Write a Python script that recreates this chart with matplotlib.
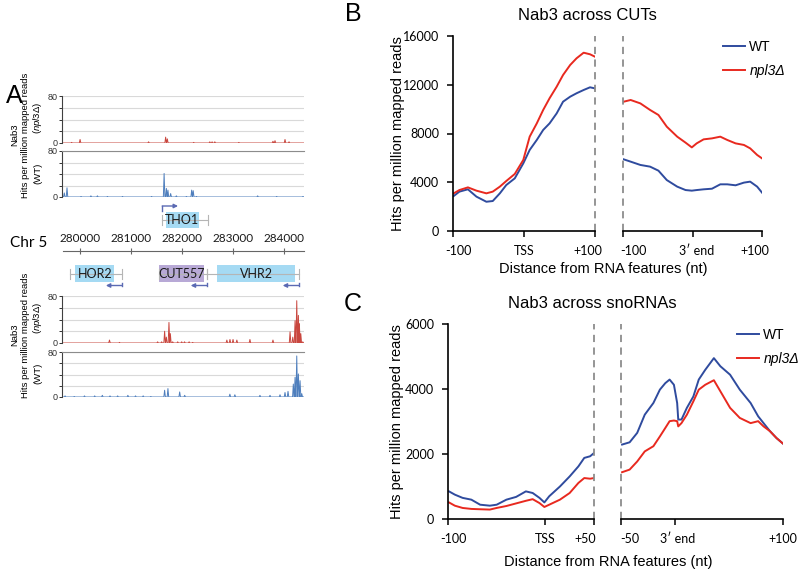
import numpy as np
import matplotlib.pyplot as plt
from matplotlib.transforms import ScaledTranslation

plt.rcParams['font.family'] = ['Liberation Sans', 'DejaVu Sans']
plt.rcParams['mathtext.fontset'] = 'custom'
plt.rcParams['mathtext.it'] = 'Liberation Sans:italic'
plt.rcParams['mathtext.rm'] = 'Liberation Sans'
CAL = ['Lato', 'DejaVu Sans']

# ---------------- Panel A: Chr 5 tracks ----------------
chr_ticks = [280000, 281000, 282000, 283000, 284000]
chr_lim = (279660, 284400)

# npl3 (top, around THO1)
a1_pos = [279849, 280014, 281356, 281690, 281723, 282240, 282555, 282600, 282653,
          283124, 283792, 283832, 284028, 284107]
a1_val = [1, 6, 2, 10, 7, 1, 2, 2, 2, 1, 3, 4, 6, 2]
# WT (top)
a2_pos = [279705, 279758, 280033, 280226, 280354, 280550, 280845, 281415, 281660,
          281704, 281735, 281788, 281900, 282097, 282200, 282230, 282293, 283492,
          283865, 284380]
a2_val = [7, 16, 1, 2, 2, 1, 1, 1, 41, 15, 12, 6, 2, 1, 12, 11, 1, 2, 1, 1]
# npl3 (bottom, around CUT557)
a3_pos = [280590, 280786, 281533, 281611, 281670, 281704, 281755, 281782, 281828,
          281926, 282004, 282060, 282150, 282220, 282889, 282950, 283010, 283085,
          283341, 283792, 284127, 284180, 284225, 284258, 284290, 284309, 284337,
          284376]
a3_val = [5, 1, 2, 2, 20, 10, 35, 16, 2, 2, 2, 2, 2, 1, 5, 6, 6, 5, 6, 5, 19, 10,
          38, 72, 47, 33, 16, 2]
# WT (bottom)
a4_pos = [279720, 279900, 280100, 280300, 280450, 280600, 280750, 280950, 281100,
          281250, 281400, 281670, 281735, 281965, 282063, 282948, 283046, 283537,
          283734, 283930, 284028, 284087, 284191, 284225, 284258, 284290, 284323,
          284356]
a4_val = [2, 1, 2, 2, 3, 2, 2, 3, 2, 2, 1, 12, 15, 9, 3, 5, 4, 3, 3, 4, 8, 10, 23,
          35, 73, 41, 29, 6]

gene_names = ['THO1', 'HOR2', 'CUT557', 'VHR2']
gene_start = [281690, 279921, 281558, 282698]
gene_end = [282344, 280688, 282437, 284225]
span_start = [281623, 279823, 281558, 282501]
span_end = [282518, 280839, 282501, 284303]
gene_strand = ['+', '-', '-', '-']
gene_row = ['top', 'bottom', 'bottom', 'bottom']
gene_colors = ['#a5daf3', '#a5daf3', '#b8a9d6', '#a5daf3']

# ---------------- Panel B: Nab3 across CUTs ----------------
b_left_x = [-99, -91, -79, -67, -53, -44, -34, -25, -13, -1, 8, 18, 27, 36, 46, 55,
            65, 74, 84, 93, 100]
b_left_wt = [2870, 3230, 3420, 2820, 2400, 2460, 3090, 3770, 4320, 5550, 6650, 7470,
             8290, 8830, 9650, 10610, 11020, 11300, 11570, 11790, 11700]
b_left_npl3 = [3090, 3360, 3580, 3310, 3090, 3230, 3640, 4100, 4680, 5830, 7740,
               8830, 9930, 10890, 11840, 12800, 13620, 14170, 14630, 14500, 14300]
b_right_x = [-99, -89, -75, -61, -49, -37, -22, -10, -1, 6, 16, 28, 40, 50, 62, 74,
             83, 93, 100]
b_right_wt = [5880, 5690, 5420, 5280, 4950, 4180, 3640, 3360, 3310, 3360, 3420, 3470,
              3830, 3830, 3750, 3970, 4050, 3640, 3150]
b_right_npl3 = [10610, 10750, 10470, 9930, 9520, 8560, 7740, 7250, 6860, 7190, 7520,
                7600, 7740, 7470, 7190, 7060, 6780, 6240, 5960]

# ---------------- Panel C: Nab3 across snoRNAs ----------------
c_left_x = [-99, -93, -85, -76, -67, -57, -50, -40, -30, -20, -13, -6, -1, 4, 15, 25,
            34, 40, 46, 50]
c_left_wt = [850, 750, 650, 595, 440, 410, 440, 595, 680, 850, 800, 650, 510, 700,
             1000, 1310, 1620, 1880, 1930, 2030]
c_left_npl3 = [510, 410, 340, 310, 300, 290, 340, 400, 480, 560, 610, 490, 370, 440,
               595, 800, 1110, 1260, 1240, 1260]
c_right_x = [-49, -42, -35, -28, -20, -14, -9, -5, -1, 2, 3, 6, 11, 17, 22, 28, 36,
             42, 51, 60, 70, 77, 82, 88, 94, 100]
c_right_wt = [2290, 2360, 2650, 3210, 3570, 3980, 4180, 4290, 4130, 3570, 3060, 3060,
              3420, 3770, 4290, 4590, 4950, 4700, 4440, 3980, 3570, 3160, 2950, 2700,
              2490, 2320]
c_right_npl3 = [1440, 1520, 1770, 2080, 2240, 2540, 2800, 3010, 3030, 3010, 2850, 2950,
                3210, 3620, 3980, 4130, 4270, 3930, 3420, 3110, 2950, 3010, 2850, 2700,
                2490, 2320]

W, H = 800, 572
BLUE, RED = '#2f4b9e', '#e8291f'
BLUE_A, RED_A = '#4f7fbd', '#c9473f'


def box(x0, y0, x1, y1):
    return [x0 / W, 1 - y1 / H, (x1 - x0) / W, (y1 - y0) / H]


def spikes(ax, pos, val, color, w=15):
    xs, ys = [chr_lim[0]], [0]
    for p, v in zip(pos, val):
        xs += [p - w, p, p + w]
        ys += [0, v, 0]
    xs.append(chr_lim[1])
    ys.append(0)
    ax.plot(xs, ys, color=color, lw=0.7)


fig = plt.figure(figsize=(8, 5.72), dpi=100)

# ---- A: coverage tracks ----
tracks = [(a1_pos, a1_val, RED_A, 96, 143, False),
          (a2_pos, a2_val, BLUE_A, 151, 197, True),
          (a3_pos, a3_val, RED_A, 296, 343, False),
          (a4_pos, a4_val, BLUE_A, 352, 397, True)]
for pos, val, col, t, b, topline in tracks:
    ax = fig.add_axes(box(62, t, 304, b))
    ax.set_xlim(chr_lim)
    ax.set_ylim(0, 80)
    ax.set_yticks([0, 20, 40, 60, 80])
    ax.set_yticklabels(['0', '', '', '', '80'])
    ax.set_xticks([])
    ax.grid(axis='y', color='#d9d9d9', lw=0.8)
    ax.set_axisbelow(True)
    ax.spines['right'].set_visible(False)
    ax.spines['bottom'].set_visible(False)
    ax.spines['top'].set_visible(topline)
    ax.spines['top'].set_color('#8c8c8c')
    ax.spines['left'].set_color('#404040')
    ax.spines['left'].set_linewidth(0.8)
    ax.tick_params(axis='y', length=2, width=0.7, labelsize=6.5, pad=1, colors='#333333')
    spikes(ax, pos, val, col)

for yc in (135, 335):
    fig.text(15 / W, 1 - yc / H, 'Nab3', rotation=90, ha='center', va='center',
             fontsize=6.8)
    fig.text(26 / W, 1 - yc / H, 'Hits per million mapped reads', rotation=90,
             ha='center', va='center', fontsize=6.8)
    fig.text(38 / W, 1 - (yc - 17) / H, '($\\mathit{npl3}$Δ)', rotation=90,
             ha='center', va='center', fontsize=6.8)
    fig.text(38 / W, 1 - (yc + 38) / H, '(WT)', rotation=90, ha='center',
             va='center', fontsize=6.8)

# ---- A: gene annotations ----
gax = fig.add_axes(box(62, 200, 304, 292))
gax.set_xlim(chr_lim)
gax.set_ylim(292, 200)
gax.axis('off')
row_y = {'top': 220, 'bottom': 273.5}
for i, name in enumerate(gene_names):
    yc = row_y[gene_row[i]]
    gax.plot([span_start[i], span_end[i]], [yc, yc], color='#b5b5b5', lw=0.8)
    for xe in (span_start[i], span_end[i]):
        gax.plot([xe, xe], [yc - 5, yc + 5], color='#b5b5b5', lw=0.8)
    gax.add_patch(plt.Rectangle((gene_start[i], yc - 8.3), gene_end[i] - gene_start[i],
                                16.6, facecolor=gene_colors[i], edgecolor='none'))
    gax.text((gene_start[i] + gene_end[i]) / 2, yc + 0.5, name, ha='center',
             va='center', fontsize=9, family=CAL, color='#1a1a1a')
    if gene_strand[i] == '+':
        x0 = span_start[i]
        gax.plot([x0, x0], [yc - 9, yc - 14], color='#5b6ab3', lw=1)
        gax.annotate('', xy=(x0 + 310, yc - 14), xytext=(x0, yc - 14),
                     arrowprops=dict(arrowstyle='-|>', color='#5b6ab3', lw=1,
                                     mutation_scale=6, shrinkA=0, shrinkB=0))
    else:
        x0 = span_end[i]
        gax.plot([x0, x0], [yc + 9, yc + 12], color='#5b6ab3', lw=1)
        gax.annotate('', xy=(x0 - 320, yc + 12), xytext=(x0, yc + 12),
                     arrowprops=dict(arrowstyle='-|>', color='#5b6ab3', lw=1,
                                     mutation_scale=6, shrinkA=0, shrinkB=0))

# ---- A: chromosome axis ----
cax = fig.add_axes(box(62.7, 250, 304, 251))
cax.set_xlim(chr_lim)
cax.set_yticks([])
for s in ['left', 'right', 'top']:
    cax.spines[s].set_visible(False)
cax.spines['bottom'].set_color('#666666')
cax.set_xticks(chr_ticks)
cax.set_xticklabels([str(t) for t in chr_ticks], family=CAL, fontsize=8.5)
cax.tick_params(axis='x', direction='inout', length=5, width=0.8, colors='#666666',
                labelcolor='#1a1a1a', bottom=True, top=False, labelbottom=False,
                labeltop=True, pad=2)
fig.text(29 / W, 1 - 243 / H, 'Chr 5', ha='center', va='center', fontsize=11,
         family=CAL)

fig.text(14 / W, 1 - 96 / H, 'A', ha='center', va='center', fontsize=18)
fig.text(353 / W, 1 - 14 / H, 'B', ha='center', va='center', fontsize=18)
fig.text(353 / W, 1 - 304 / H, 'C', ha='center', va='center', fontsize=18)


# ---- B and C: metagene profiles ----
def style(ax, show_left, shifts):
    ax.spines['top'].set_visible(False)
    ax.spines['right'].set_visible(False)
    ax.spines['left'].set_visible(show_left)
    for s in ['left', 'bottom']:
        ax.spines[s].set_linewidth(1.2)
    ax.tick_params(direction='out', length=4, width=1.1, labelsize=9, pad=6)
    for t in ax.get_xticklabels() + ax.get_yticklabels():
        t.set_family(CAL)
    if not show_left:
        ax.set_yticks([])
    # Excel-like nudges of the category labels
    for lab, dx in zip(ax.get_xticklabels(), shifts):
        lab.set_transform(lab.get_transform() +
                          ScaledTranslation(dx / 100, 0, fig.dpi_scale_trans))


def panel(top, bottom, lx, rx, xl, xr, ylim, yticks, left, right, title, tx, xlab,
          leg_xy):
    axL = fig.add_axes(box(lx[0], top, lx[1], bottom))
    axR = fig.add_axes(box(rx[0], top, rx[1], bottom))
    x, wt, mu, ticks, labels, sh_l = left
    axL.plot(x, wt, color=BLUE, lw=1.4)
    axL.plot(x, mu, color=RED, lw=1.4)
    axL.set_xlim(xl)
    axL.set_ylim(ylim)
    axL.set_yticks(yticks)
    axL.set_xticks(ticks)
    axL.set_xticklabels(labels)
    axL.axvline(xl[1], color='#8c8c8c', ls=(0, (4, 3)), lw=1.3, clip_on=False)
    x, wt, mu, ticks, labels, sh_r = right
    axR.plot(x, wt, color=BLUE, lw=1.4, label='WT')
    axR.plot(x, mu, color=RED, lw=1.4, label='npl3Δ')
    axR.set_xlim(xr)
    axR.set_ylim(ylim)
    axR.set_xticks(ticks)
    axR.set_xticklabels(labels)
    axR.axvline(xr[0], color='#8c8c8c', ls=(0, (4, 3)), lw=1.3, clip_on=False)
    style(axL, True, sh_l)
    style(axR, False, sh_r)
    axL.set_ylabel('Hits per million mapped reads', fontsize=10.5)
    fig.text(tx / W, 1 - (top - 20) / H, title, ha='center', va='center', fontsize=12)
    fig.text(xlab[0] / W, 1 - xlab[1] / H, 'Distance from RNA features (nt)',
             ha='center', va='center', fontsize=10.5)
    leg = axR.legend(loc='upper left', bbox_to_anchor=leg_xy,
                     bbox_transform=fig.transFigure, frameon=False, fontsize=10,
                     handlelength=1.6, handletextpad=0.3, labelspacing=0.7,
                     borderpad=0, borderaxespad=0)
    leg.get_texts()[1].set_fontstyle('italic')
    return axL


axB = panel(36, 231, (453, 595), (623, 762), (-100, 100), (-100, 100), (0, 16000),
            [0, 4000, 8000, 12000, 16000],
            (b_left_x, b_left_wt, b_left_npl3, [-100, 0, 100], ['-100', 'TSS', '+100'],
             [5, 0, -7]),
            (b_right_x, b_right_wt, b_right_npl3, [-100, 0, 100],
             ['-100', '3′ end', '+100'], [10, 4, -7]),
            'Nab3 across CUTs', 587, (603, 269), (723 / W, 1 - 40 / H))
axB.yaxis.set_label_coords(-0.34, 0.5)

axC = panel(324, 519, (448, 594), (621, 783), (-100, 50), (-50, 100), (0, 6000),
            [0, 2000, 4000, 6000],
            (c_left_x, c_left_wt, c_left_npl3, [-100, 0, 50], ['-100', 'TSS', '+50'],
             [5, 0, -9]),
            (c_right_x, c_right_wt, c_right_npl3, [-50, 0, 100],
             ['-50', '3′ end', '+100'], [9, 3, 0]),
            'Nab3 across snoRNAs', 592, (608, 562), (737 / W, 1 - 328 / H))
axC.yaxis.set_label_coords(-0.30, 0.5)

fig.savefig('out.png', dpi=100)
